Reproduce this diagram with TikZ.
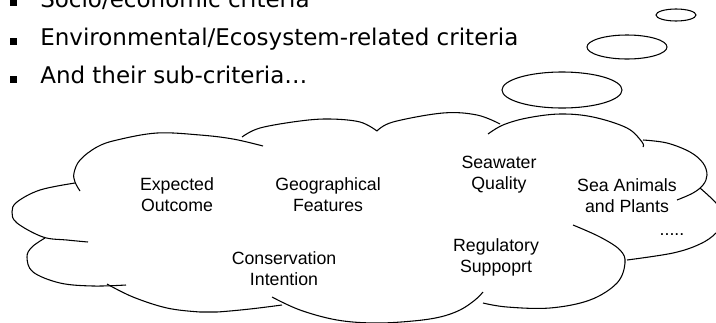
\documentclass[tikz,border=0pt]{standalone}
\usepackage{fontspec}
\setmainfont{DejaVu Sans}
\newfontfamily\cloudfont{Liberation Sans}
\begin{document}
\begin{tikzpicture}[x=0.75pt,y=-0.75pt,
  outline/.style={line width=0.8pt, draw=black},
  lobe/.style={outline, smooth, tension=0.6},
  bullettext/.style={anchor=base west, inner sep=0pt, font=\fontsize{17.25}{20}\selectfont},
  bulletmark/.style={rectangle, fill=black, minimum size=5.25pt, inner sep=0pt, anchor=south west},
  idea/.style={anchor=base, inner sep=0pt, font=\cloudfont\fontsize{13.3}{16.1}\selectfont},
]
\useasboundingbox (0,0) rectangle (716,322);
\clip (0,0) rectangle (716,322);

% bullet list
\node[bulletmark] (b1) at (10,6.5) {};
\node[bullettext] (t1) at (40,7) {Socio/economic criteria};
\node[bulletmark] (b2) at (10,45) {};
\node[bullettext] (t2) at (40,45.5) {Environmental/Ecosystem-related criteria};
\node[bulletmark] (b3) at (10,83) {};
\node[bullettext] (t3) at (40,83.5) {And their sub-criteria…};

% thought bubbles leading to the cloud
\draw[outline] (676,15) ellipse [x radius=20, y radius=6];
\draw[outline] (627,47) ellipse [x radius=40, y radius=12];
\draw[outline] (562,90) ellipse [x radius=60, y radius=18];

% cloud lobes
\draw[lobe] plot coordinates {(80,191) (75,182) (74,173) (80,160) (97,147) (117,140) (157,133) (200,135) (233,139) (263,146)};
\draw[lobe] plot coordinates {(75,183) (40,190) (17,202) (12,212) (17,223) (43,237) (67,240) (88,242)};
\draw[lobe] plot coordinates {(45,238) (32,247) (27,257) (33,272) (60,283) (93,286) (126,285)};
\draw[lobe] plot coordinates {(107,284) (133,297) (167,308) (200,312) (217,312) (250,309) (282,305)};
\draw[lobe] plot coordinates {(272,297) (300,310) (337,320) (375,323) (413,321) (440,317) (460,310) (475,300) (483,292)};
\draw[lobe] plot coordinates {(483,303) (507,307) (550,308) (590,300) (617,283) (625,263) (620,250) (600,237) (573,225)};
\draw[lobe] plot coordinates {(627,260) (673,253) (700,244) (716,233) (726,218) (716,203) (700,188)};
\draw[lobe] plot coordinates {(677,200) (693,193) (703,185) (707,175) (703,163) (690,152) (667,143) (643,140)};
\draw[lobe] plot coordinates {(488,134) (503,125) (527,118) (560,114) (593,117) (627,128) (642,142) (643,147)};
\draw[lobe] plot coordinates {(242,137) (260,128) (300,121) (330,119) (360,122) (377,131)};
\draw[lobe] plot coordinates {(377,131) (393,122) (443,113) (477,115) (500,124)};

% criteria inside the cloud
\node[idea] (outcome) at (177,190) {\begin{tabular}[t]{@{}c@{}}Expected\\Outcome\end{tabular}};
\node[idea] (geo) at (328,190) {\begin{tabular}[t]{@{}c@{}}Geographical\\Features\end{tabular}};
\node[idea] (water) at (499,168) {\begin{tabular}[t]{@{}c@{}}Seawater\\Quality\end{tabular}};
\node[idea] (life) at (627,191) {\begin{tabular}[t]{@{}c@{}}Sea Animals\\and Plants\end{tabular}};
\node[idea] (cons) at (284,264) {\begin{tabular}[t]{@{}c@{}}Conservation\\Intention\end{tabular}};
\node[idea] (reg) at (496,251) {\begin{tabular}[t]{@{}c@{}}Regulatory\\Suppoprt\end{tabular}};
\node[idea] (more) at (672,235) {.....};
\end{tikzpicture}
\end{document}
